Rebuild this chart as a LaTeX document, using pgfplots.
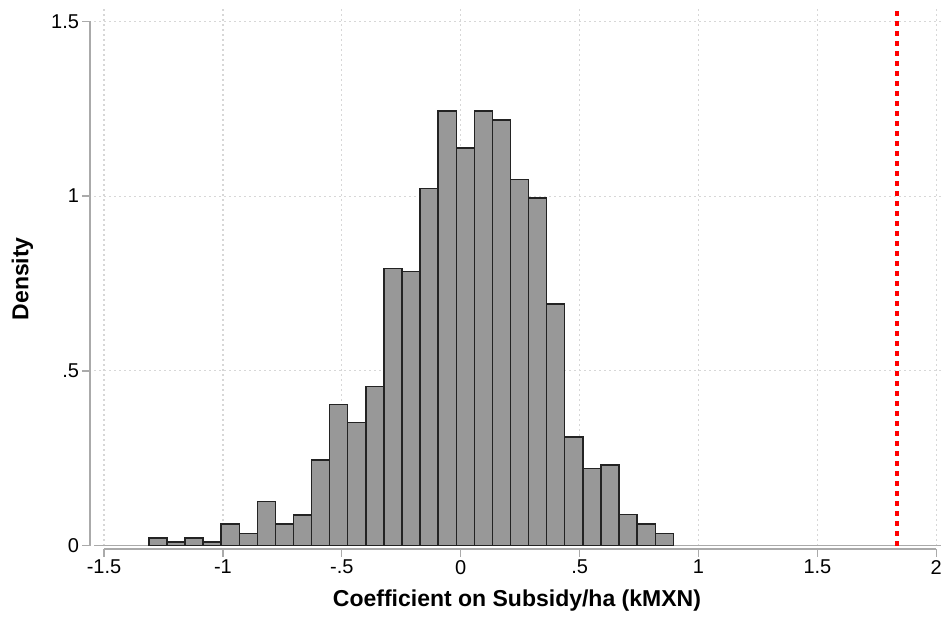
\documentclass[border=0pt]{standalone}
\usepackage{pgfplots}
\pgfplotsset{compat=1.18}
\usepackage{fontspec}
\setmainfont{Liberation Sans}
\definecolor{axisgray}{RGB}{170,170,170}
\definecolor{gridgray}{RGB}{215,215,215}
\definecolor{barfill}{RGB}{152,152,152}
\definecolor{baredge}{RGB}{35,35,35}
\begin{document}
\begin{tikzpicture}
\begin{axis}[
  x=237.8pt, y=349.5pt,
  xmin=-1.54, xmax=2.02, ymin=0, ymax=1.545,
  clip=false,
  axis x line*=bottom, axis y line*=left,
  axis line style={draw=none},
  axis x line shift=3.5pt, axis y line shift=4.5pt,
  xtick={-1.5,-1,-0.5,0,0.5,1,1.5,2},
  xticklabels={-1.5,-1,-.5,0,.5,1,1.5,2},
  ytick={0,0.5,1,1.5},
  yticklabels={0,.5,1,1.5},
  tick align=outside,
  major tick length=7.5pt,
  tick style={axisgray, line width=1.3pt},
  ticklabel style={font=\fontsize{20}{24}\selectfont, text=black},
  grid=major,
  major grid style={gridgray, line width=1.2pt, dash pattern=on 1.3pt off 3.7pt},
  xlabel={Coefficient on Subsidy/ha (kMXN)},
  ylabel={Density},
  xlabel style={font=\fontsize{23}{28}\selectfont\bfseries, at={(axis description cs:0.499,-0.1023)}, anchor=center},
  ylabel style={font=\fontsize{23}{28}\selectfont\bfseries, at={(axis description cs:-0.085,0.494)}, anchor=center, rotate=0},
]
% baseline
\draw[axisgray, line width=1.3pt] (axis cs:-1.54,0) -- (axis cs:2.02,0);
\addplot[ybar interval, fill=barfill, draw=baredge, line width=1.4pt] coordinates {
(-1.3116,0.022) (-1.2355,0.010) (-1.1595,0.022) (-1.0834,0.010)
(-1.0074,0.062) (-0.9313,0.035) (-0.8553,0.127) (-0.7792,0.062)
(-0.7031,0.088) (-0.6271,0.245) (-0.5510,0.404) (-0.4750,0.352)
(-0.3989,0.456) (-0.3229,0.792) (-0.2468,0.784) (-0.1707,1.021)
(-0.0947,1.244) (-0.0186,1.138) (0.0574,1.244) (0.1335,1.218)
(0.2096,1.048) (0.2856,0.994) (0.3617,0.691) (0.4377,0.311)
(0.5138,0.220) (0.5899,0.231) (0.6659,0.089) (0.7420,0.062)
(0.8180,0.035) (0.8941,0.035)
};
\addplot[red, line width=4pt, dash pattern=on 5pt off 5pt] coordinates {(1.835,0) (1.835,1.545)};
% axis lines
\draw[axisgray, line width=1.3pt] ([yshift=-3.5pt]axis cs:-1.5,0) -- ([yshift=-3.5pt]axis cs:2,0);
\draw[axisgray, line width=1.3pt] ([xshift=-4.5pt]axis cs:-1.54,0) -- ([xshift=-4.5pt]axis cs:-1.54,1.5);
\coordinate (tl) at (axis cs:-1.9374,1.5611);
\coordinate (br) at (axis cs:2.0450,-0.2243);
\end{axis}
\path (tl) rectangle (br);
\end{tikzpicture}
\end{document}
